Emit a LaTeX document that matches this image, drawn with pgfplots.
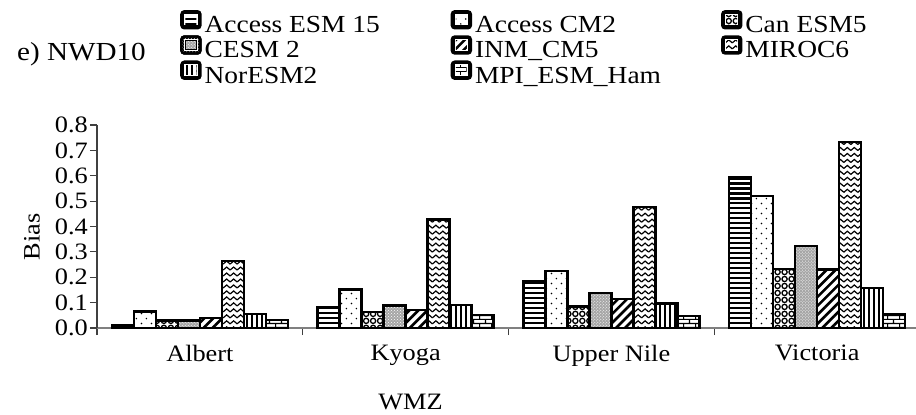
\documentclass[border=0pt]{standalone}
\usepackage{fontspec}
\setmainfont{Liberation Serif}[FakeStretch=1.12]
\usepackage{pgfplots}
\pgfplotsset{compat=1.18}
\usetikzlibrary{patterns}

\pgfdeclarepatternformonly{hl}{\pgfqpoint{-1pt}{-1pt}}{\pgfqpoint{6pt}{6pt}}{\pgfqpoint{5pt}{5pt}}{%
  \pgfsetlinewidth{2.4pt}\pgfpathmoveto{\pgfqpoint{-1pt}{2.5pt}}\pgfpathlineto{\pgfqpoint{6pt}{2.5pt}}\pgfusepath{stroke}}
\pgfdeclarepatternformonly{vl}{\pgfqpoint{-1pt}{-1pt}}{\pgfqpoint{6pt}{6pt}}{\pgfqpoint{5pt}{5pt}}{%
  \pgfsetlinewidth{2pt}\pgfpathmoveto{\pgfqpoint{2.5pt}{-1pt}}\pgfpathlineto{\pgfqpoint{2.5pt}{6pt}}\pgfusepath{stroke}}
\pgfdeclarepatternformonly{sdots}{\pgfqpoint{0pt}{0pt}}{\pgfqpoint{10pt}{10pt}}{\pgfqpoint{10pt}{10pt}}{%
  \pgfpathcircle{\pgfqpoint{2.5pt}{2.5pt}}{0.8pt}\pgfpathcircle{\pgfqpoint{7.5pt}{7.5pt}}{0.8pt}\pgfusepath{fill}}
\pgfdeclarepatternformonly{circ}{\pgfqpoint{-0.5pt}{-0.5pt}}{\pgfqpoint{7.5pt}{7.5pt}}{\pgfqpoint{7pt}{7pt}}{%
  \pgfsetlinewidth{1.3pt}\pgfpathcircle{\pgfqpoint{3.5pt}{3.5pt}}{2.6pt}\pgfusepath{stroke}}
\pgfdeclarepatternformonly{diag}{\pgfqpoint{-1pt}{-1pt}}{\pgfqpoint{10pt}{10pt}}{\pgfqpoint{9pt}{9pt}}{%
  \pgfsetlinewidth{2.6pt}\pgfpathmoveto{\pgfqpoint{0pt}{0pt}}\pgfpathlineto{\pgfqpoint{9.1pt}{9.1pt}}\pgfusepath{stroke}}
\pgfdeclarepatternformonly{zz}{\pgfqpoint{-1pt}{-1pt}}{\pgfqpoint{8pt}{7pt}}{\pgfqpoint{7pt}{6pt}}{%
  \pgfsetlinewidth{1.2pt}\pgfpathmoveto{\pgfqpoint{0pt}{1.5pt}}\pgfpathlineto{\pgfqpoint{3.5pt}{4.5pt}}\pgfpathlineto{\pgfqpoint{7pt}{1.5pt}}\pgfusepath{stroke}}
\pgfdeclarepatternformonly{brick}{\pgfqpoint{0pt}{0pt}}{\pgfqpoint{12pt}{8pt}}{\pgfqpoint{12pt}{8pt}}{%
  \pgfsetlinewidth{1.2pt}%
  \pgfpathmoveto{\pgfqpoint{0pt}{0.6pt}}\pgfpathlineto{\pgfqpoint{12pt}{0.6pt}}%
  \pgfpathmoveto{\pgfqpoint{0pt}{4.6pt}}\pgfpathlineto{\pgfqpoint{12pt}{4.6pt}}%
  \pgfpathmoveto{\pgfqpoint{0.6pt}{0.6pt}}\pgfpathlineto{\pgfqpoint{0.6pt}{4.6pt}}%
  \pgfpathmoveto{\pgfqpoint{6.6pt}{4.6pt}}\pgfpathlineto{\pgfqpoint{6.6pt}{8pt}}%
  \pgfusepath{stroke}}

\pgfplotstableread{
x  aesm  acm2  can   cesm  inm   miroc  nor   mpi
0  0.010 0.065 0.030 0.030 0.040 0.265  0.055 0.032
1  0.082 0.152 0.062 0.088 0.072 0.428  0.090 0.052
2  0.186 0.225 0.084 0.137 0.114 0.478  0.097 0.048
3  0.595 0.521 0.233 0.323 0.230 0.732  0.157 0.055
}\datatable

\newcommand{\lb}[1]{\makebox[243bp][l]{#1}}

\begin{document}
\begin{tikzpicture}
\fontsize{23.5bp}{27bp}\selectfont
\begin{axis}[
  at={(0,0)}, anchor=south west,
  scale only axis, width=823bp, height=203bp,
  xmin=-0.5, xmax=3.5, ymin=0, ymax=0.8,
  axis x line*=bottom, axis y line*=left,
  axis line style={-, line width=1.2bp, black!75},
  x axis line style={black!50},
  ybar, bar width=0.107,
  tick align=outside, major tick length=7bp,
  tick style={line width=1.2bp, black!75},
  ytick={0,0.1,0.2,0.3,0.4,0.5,0.6,0.7,0.8},
  /pgf/number format/assume math mode=true,
  yticklabel style={/pgf/number format/fixed, /pgf/number format/fixed zerofill, /pgf/number format/precision=1, font=\fontsize{23.5bp}{27bp}\selectfont, inner sep=2bp},
  xtick={-0.5,0.5,1.5,2.5,3.5}, xticklabels={},
  extra x ticks={0,1,2,3},
  extra x tick labels={Albert,Kyoga,Upper Nile,Victoria},
  extra x tick style={major tick length=0pt, xticklabel style={yshift=-9bp}},
  xticklabel style={font=\fontsize{23.5bp}{27bp}\selectfont},
  xlabel={WMZ}, ylabel={Bias},
  xlabel style={at={(axis description cs:0.381,-0.3645)}, anchor=center, font=\fontsize{23.5bp}{27bp}\selectfont},
  ylabel style={at={(axis description cs:-0.079,0.448)}, anchor=center, font=\fontsize{23.5bp}{27bp}\selectfont},
  every axis plot/.append style={draw=black, line width=2.4bp},
  legend columns=3,
  legend cell align=left,
  legend style={at={(axis description cs:0.1009,1.567)}, anchor=north west, draw=none, fill=none,
    inner sep=0pt, row sep=-3.5bp, column sep=3bp,
    nodes={inner sep=0pt, text height=17bp, text depth=6bp},
    font=\fontsize{24.5bp}{28bp}\selectfont},
  legend image code/.code={%
    \fill[black, rounded corners=3bp] (0bp,-1bp) rectangle (19bp,16bp);
    \fill[white] (4bp,3bp) rectangle (15bp,12bp);
    \path[#1, draw=none, line width=0pt] (4bp,3bp) rectangle (15bp,12bp);},
  clip=false,
]
\addplot[bar shift=-0.3745, pattern=hl] table[x=x,y=aesm]{\datatable};
\addplot[bar shift=-0.2675, pattern=sdots] table[x=x,y=acm2]{\datatable};
\addplot[bar shift=-0.1605, pattern=circ] table[x=x,y=can]{\datatable};
\addplot[bar shift=-0.0535, fill=gray!70, postaction={pattern=crosshatch dots, pattern color=white}] table[x=x,y=cesm]{\datatable};
\addplot[bar shift=0.0535, pattern=diag] table[x=x,y=inm]{\datatable};
\addplot[bar shift=0.1605, pattern=zz] table[x=x,y=miroc]{\datatable};
\addplot[bar shift=0.2675, pattern=vl] table[x=x,y=nor]{\datatable};
\addplot[bar shift=0.3745, pattern=brick] table[x=x,y=mpi]{\datatable};
\legend{\lb{Access ESM 15},\lb{Access CM2},Can ESM5,\lb{CESM 2},\lb{INM\_CM5},MIROC6,\lb{NorESM2},\lb{MPI\_ESM\_Ham}}
\node[anchor=base west, inner sep=0pt, font=\fontsize{26bp}{30bp}\selectfont] at (axis description cs:-0.0972,1.32) {e) NWD10};
\end{axis}
\pgfresetboundingbox
\path[use as bounding box] (-97bp,-87bp) rectangle (819bp,328bp);
\end{tikzpicture}
\end{document}
